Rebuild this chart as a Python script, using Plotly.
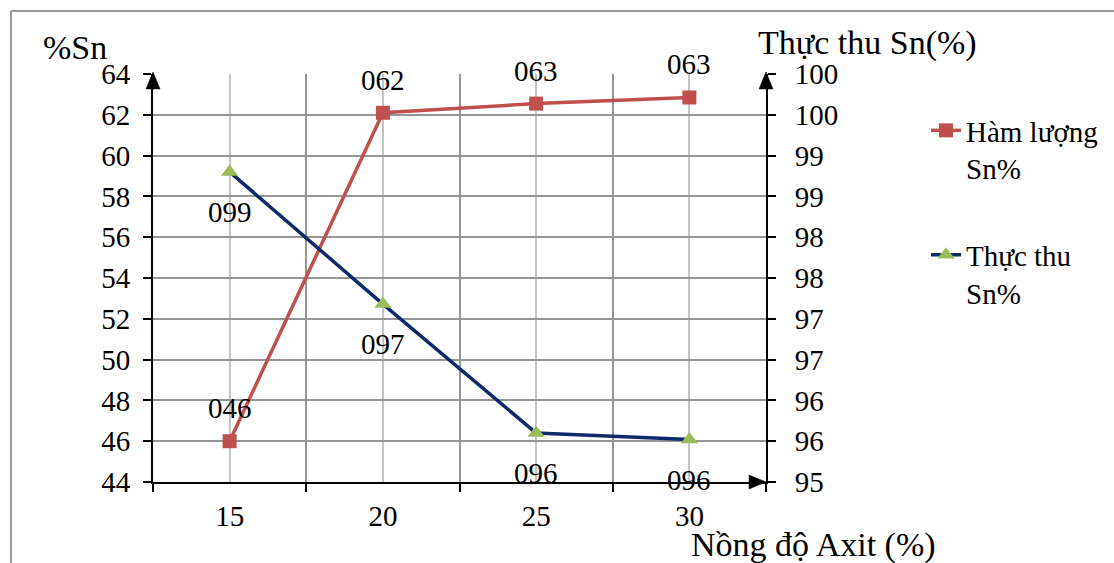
import plotly.graph_objects as go

# ---- data ----
categories = [15, 20, 25, 30]
ham_luong = [46.0, 62.1, 62.55, 62.85]
thuc_thu = [98.8, 97.18, 95.6, 95.52]
left_tick_vals = [44, 46, 48, 50, 52, 54, 56, 58, 60, 62, 64]
right_tick_vals = [95, 95.5, 96, 96.5, 97, 97.5, 98, 98.5, 99, 99.5, 100]
right_tick_text = ["95", "96", "96", "97", "97", "98", "98", "99", "99", "100", "100"]
x_tick_text = ["15", "20", "25", "30"]
x_boundaries = [12.5, 17.5, 22.5, 27.5, 32.5]

FONT = "Liberation Serif"
RED = "#C0504D"
NAVY = "#0E2A68"
GREEN = "#9BBB59"

W, H = 1114, 563
L, R, T, B = 153, 766, 74, 482
pw, ph = R - L, B - T

def px(x):
    return (x - L) / pw

def py(y):
    return (B - y) / ph

fig = go.Figure()
fig.add_trace(go.Scatter(
    x=categories, y=ham_luong, name="Hàm lượng<br>Sn%", mode="lines+markers",
    line=dict(color=RED, width=3.5),
    marker=dict(symbol="square", size=14, color=RED),
    legendgroup="a", yaxis="y"))
fig.add_trace(go.Scatter(
    x=categories, y=thuc_thu, name="Thực thu<br>Sn%", mode="lines+markers",
    line=dict(color=NAVY, width=3.5),
    marker=dict(symbol="triangle-up", size=15, color=GREEN),
    legendgroup="b", yaxis="y2"))

annotations = []
for xv, v in zip(categories, ham_luong):
    annotations.append(dict(x=xv, y=v, xref="x", yref="y", text=f"{round(v):03d}",
                            showarrow=False, yshift=33,
                            font=dict(family=FONT, size=29, color="black")))
for xv, v in zip(categories, thuc_thu):
    annotations.append(dict(x=xv, y=v, xref="x", yref="y2", text=f"{round(v):03d}",
                            showarrow=False, yshift=-40,
                            font=dict(family=FONT, size=29, color="black")))

annotations += [
    dict(x=px(41), y=py(47), xref="paper", yref="paper", text="%Sn", showarrow=False,
         xanchor="left", yanchor="middle", font=dict(family=FONT, size=34, color="black")),
    dict(x=px(756), y=py(43), xref="paper", yref="paper", text="Thực thu Sn(%)", showarrow=False,
         xanchor="left", yanchor="middle", font=dict(family=FONT, size=34, color="black")),
    dict(x=px(689), y=py(545), xref="paper", yref="paper", text="Nồng độ Axit (%)", showarrow=False,
         xanchor="left", yanchor="middle", font=dict(family=FONT, size=34, color="black")),
]

shapes = [
    # outer frame (left and top edges)
    dict(type="line", xref="paper", yref="paper", x0=px(11), x1=px(11), y0=py(11), y1=py(600),
         line=dict(color="#9A9A9A", width=2)),
    dict(type="line", xref="paper", yref="paper", x0=px(11), x1=px(1200), y0=py(11), y1=py(11),
         line=dict(color="#9A9A9A", width=2)),
    # axis arrows
    dict(type="path", xref="paper", yref="paper", xsizemode="pixel", ysizemode="pixel",
         xanchor=0, yanchor=1, path="M-7,-15 L7,-15 L0,2 Z",
         fillcolor="black", line=dict(color="black", width=0.5)),
    dict(type="path", xref="paper", yref="paper", xsizemode="pixel", ysizemode="pixel",
         xanchor=1, yanchor=1, path="M-7,-15 L7,-15 L0,2 Z",
         fillcolor="black", line=dict(color="black", width=0.5)),
    dict(type="path", xref="paper", yref="paper", xsizemode="pixel", ysizemode="pixel",
         xanchor=1, yanchor=0, path="M-17,7 L-17,-7 L0,0 Z",
         fillcolor="black", line=dict(color="black", width=0.5)),
]

fig.update_layout(
    width=W, height=H,
    margin=dict(l=L, r=W - R, t=T, b=H - B, autoexpand=False),
    paper_bgcolor="white", plot_bgcolor="white",
    font=dict(family=FONT, size=28, color="black"),
    showlegend=True,
    legend=dict(x=px(926), y=py(105), xanchor="left", yanchor="top",
                font=dict(family=FONT, size=29, color="black"),
                tracegroupgap=46, valign="top", bgcolor="rgba(0,0,0,0)"),
    xaxis=dict(range=[12.5, 32.5], tickvals=categories, ticktext=x_tick_text,
               showgrid=True, gridcolor="#C4C4C4", gridwidth=1.5,
               ticks="", showline=True, linecolor="black", linewidth=2,
               zeroline=False, ticklabelstandoff=7,
               minor=dict(tickvals=x_boundaries, ticks="outside", ticklen=8,
                          tickcolor="black", tickwidth=2, showgrid=True,
                          gridcolor="#969696", gridwidth=1.5),
               tickfont=dict(family=FONT, size=29)),
    yaxis=dict(range=[44, 64], tickvals=left_tick_vals,
               showgrid=True, gridcolor="#969696", gridwidth=1.5,
               ticks="outside", ticklen=8, tickcolor="black", tickwidth=2,
               showline=True, linecolor="black", linewidth=2, zeroline=False,
               ticklabelstandoff=7, tickfont=dict(family=FONT, size=29)),
    yaxis2=dict(range=[95, 100], tickvals=right_tick_vals, ticktext=right_tick_text,
                overlaying="y", side="right", showgrid=False,
                ticks="outside", ticklen=8, tickcolor="black", tickwidth=2,
                showline=True, linecolor="black", linewidth=2, zeroline=False,
                ticklabelstandoff=13, tickfont=dict(family=FONT, size=29)),
    annotations=annotations, shapes=shapes,
)

fig.write_html("out.html")
